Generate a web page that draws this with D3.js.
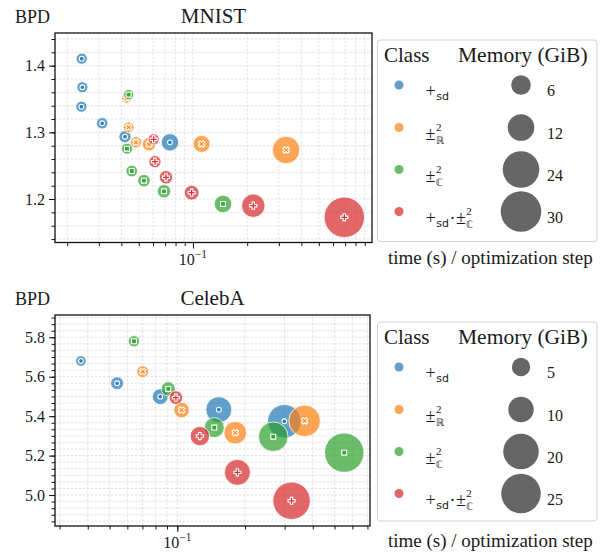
<!DOCTYPE html>
<html>
<head>
<meta charset="utf-8">
<script src="https://cdn.jsdelivr.net/npm/d3@7"></script>
<style>
body { margin: 0; background: #fff; }
svg text { font-family: "Liberation Serif", "Times New Roman", "DejaVu Serif", serif; fill: #1a1a1a; }
</style>
</head>
<body>
<svg id="chart" width="605" height="558"></svg>
<script>
var classColors = ["#1f77b4", "#ff7f0e", "#2ca02c", "#d62728"];

// each point: [time (s) per optimization step, BPD, memory (GiB)]
var mnistSd = [[0.0241, 1.4105, 1.5], [0.0243, 1.3676, 1.5], [0.0240, 1.3385, 1.5], [0.0313, 1.3136, 1.6], [0.0419, 1.2935, 1.9], [0.0745, 1.285, 4.6]];
var mnistR = [[0.0428, 1.351, 1.1], [0.0439, 1.3076, 1.4], [0.0482, 1.285, 1.6], [0.0570, 1.282, 2.4], [0.1117, 1.2826, 4.3], [0.329, 1.2735, 12.8]];
var mnistC = [[0.0439, 1.3565, 1.2], [0.0430, 1.2755, 1.5], [0.0457, 1.242, 1.7], [0.0534, 1.2275, 2.0], [0.069, 1.2116, 2.4], [0.1468, 1.1926, 4.6]];
var mnistSdC = [[0.0605, 1.2896, 1.5], [0.0615, 1.256, 1.9], [0.0708, 1.2326, 2.4], [0.0983, 1.2095, 3.1], [0.2163, 1.19, 9.0], [0.693, 1.1726, 29.7]];

var celebaSd = [[0.0373, 5.680, 1.5], [0.054, 5.567, 2.3], [0.084, 5.499, 3.6], [0.153, 5.433, 10.4], [0.299, 5.374, 17.6]];
var celebaR = [[0.0702, 5.626, 1.9], [0.1045, 5.431, 3.5], [0.181, 5.316, 7.8], [0.368, 5.376, 15.7]];
var celebaC = [[0.0642, 5.780, 1.7], [0.0912, 5.538, 2.9], [0.146, 5.342, 6.0], [0.267, 5.296, 13.7], [0.552, 5.215, 24.8]];
var celebaSdC = [[0.0986, 5.494, 2.6], [0.126, 5.299, 5.6], [0.185, 5.115, 10.4], [0.322, 4.971, 22.3]];

var mnistMemLegend = [6, 12, 24, 30];
var celebaMemLegend = [5, 10, 20, 25];
var mnistYTicks = [1.2, 1.3, 1.4];
var celebaYTicks = [5.0, 5.2, 5.4, 5.6, 5.8];

// legend labels, pieces of math text
var classLabels = [
  [{t: "+"}, {sub: "sd"}],
  [{t: "\u00b1"}, {sup: "2", sub: "\u211d"}],
  [{t: "\u00b1"}, {sup: "2", sub: "\u2102"}],
  [{t: "+"}, {sub: "sd"}, {t: "\u00b7"}, {t: "\u00b1"}, {sup: "2", sub: "\u2102"}]
];

var serif = "'Liberation Serif', 'Times New Roman', 'DejaVu Serif', serif";
var svg = d3.select("#chart");

function mathLabel(g, x, y, parts) {
  var cx = x;
  parts.forEach(function (p) {
    if (p.sup) {
      var a = g.append("text").attr("x", cx).attr("y", y - 9)
        .style("font-family", serif).style("font-size", "11px").text(p.sup);
      var b = g.append("text").attr("x", cx).attr("y", y + 4)
        .style("font-family", "DejaVu Sans").style("font-size", "10px").text(p.sub);
      cx += Math.max(a.node().getComputedTextLength(), b.node().getComputedTextLength()) + 1;
    } else if (p.sub) {
      var s = g.append("text").attr("x", cx).attr("y", y + 3)
        .style("font-family", "DejaVu Sans").style("font-size", "11px").text(p.sub);
      cx += s.node().getComputedTextLength() + 0.5;
    } else {
      var m = g.append("text").attr("x", cx).attr("y", y)
        .style("font-family", serif).style("font-size", "18px").text(p.t);
      cx += m.node().getComputedTextLength() + 0.5;
    }
  });
}

function innerMarker(k) {
  var types = [d3.symbolCircle, d3.symbolCross, d3.symbolSquare, d3.symbolCross];
  var sizes = [18, 26, 24, 28];
  return d3.symbol().type(types[k]).size(sizes[k])();
}

function drawPanel(p) {
  var g = svg.append("g").style("font-family", serif);
  var x = d3.scaleLog().domain(p.xDomain).range([p.left, p.right]);
  var y = d3.scaleLinear().domain(p.yDomain).range([p.bottom, p.top]);
  var r = d3.scaleSqrt().domain([0, p.memMax]).range([0, p.rMax]);

  var xTicks = x.ticks().filter(function (v) { return v >= p.xDomain[0] && v <= p.xDomain[1]; });
  var xMajor = xTicks.filter(function (v) { return Math.abs(Math.log10(v) - Math.round(Math.log10(v))) < 1e-6; });
  var yMinor = d3.range(Math.ceil(p.yDomain[0] / p.yMinorStep - 1e-6), Math.floor(p.yDomain[1] / p.yMinorStep + 1e-6) + 1)
    .map(function (i) { return i * p.yMinorStep; });

  // grid
  g.append("g").selectAll("line").data(xTicks).join("line")
    .attr("x1", function (d) { return x(d); }).attr("x2", function (d) { return x(d); })
    .attr("y1", p.top).attr("y2", p.bottom)
    .attr("stroke", "#dcdcdc").attr("stroke-width", 0.8).attr("stroke-dasharray", "2.5,1.5");
  g.append("g").selectAll("line").data(yMinor).join("line")
    .attr("x1", p.left).attr("x2", p.right)
    .attr("y1", function (d) { return y(d); }).attr("y2", function (d) { return y(d); })
    .attr("stroke", "#dcdcdc").attr("stroke-width", 0.8).attr("stroke-dasharray", "2.5,1.5");

  // points, class by class
  p.series.forEach(function (pts, k) {
    var sg = g.append("g");
    sg.selectAll("circle").data(pts).join("circle")
      .attr("cx", function (d) { return x(d[0]); })
      .attr("cy", function (d) { return y(d[1]); })
      .attr("r", function (d) { return r(d[2]) + p.rEdge; })
      .attr("fill", classColors[k]).attr("fill-opacity", 0.7)
      .attr("stroke", "#fff").attr("stroke-width", 0.8);
    sg.selectAll("path").data(pts).join("path")
      .attr("d", innerMarker(k))
      .attr("transform", function (d) {
        return "translate(" + x(d[0]) + "," + y(d[1]) + ")" + (k === 1 ? " rotate(45)" : "");
      })
      .attr("fill", classColors[k]).attr("fill-opacity", 0.8)
      .attr("stroke", "#fff").attr("stroke-width", 1.1);
  });

  // frame
  g.append("rect").attr("x", p.left).attr("y", p.top)
    .attr("width", p.right - p.left).attr("height", p.bottom - p.top)
    .attr("fill", "none").attr("stroke", "#111").attr("stroke-width", 1.3);

  // ticks
  var xAxisMinor = d3.axisBottom(x).tickValues(xTicks).tickSize(3.5).tickFormat("");
  var xAxisMajor = d3.axisBottom(x).tickValues(xMajor).tickSize(6).tickFormat("");
  var yAxisMinor = d3.axisLeft(y).tickValues(yMinor).tickSize(3.5).tickFormat("");
  var yAxisMajor = d3.axisLeft(y).tickValues(p.yTicks).tickSize(6).tickFormat("");
  [xAxisMinor, xAxisMajor].forEach(function (a) {
    var ag = g.append("g").attr("transform", "translate(0," + p.bottom + ")").call(a);
    ag.select(".domain").remove();
    ag.selectAll("line").attr("stroke", "#111").attr("stroke-width", 1);
  });
  [yAxisMinor, yAxisMajor].forEach(function (a) {
    var ag = g.append("g").attr("transform", "translate(" + p.left + ",0)").call(a);
    ag.select(".domain").remove();
    ag.selectAll("line").attr("stroke", "#111").attr("stroke-width", 1);
  });

  g.selectAll(".ylab").data(p.yTicks).join("text")
    .attr("x", p.left - 10).attr("y", function (d) { return y(d) + 5.5; })
    .attr("text-anchor", "end").style("font-size", "16px")
    .text(function (d) { return d.toFixed(1); });

  xMajor.forEach(function (v) {
    var e = Math.round(Math.log10(v));
    var t = g.append("text").attr("x", x(v)).attr("y", p.bottom + 22)
      .attr("text-anchor", "middle").style("font-size", "16px");
    t.append("tspan").text("10");
    t.append("tspan").attr("dy", -7).style("font-size", "11.5px").text("\u2212" + Math.abs(e));
  });

  // titles
  g.append("text").attr("x", (p.left + p.right) / 2).attr("y", p.top - 10.5)
    .attr("text-anchor", "middle").style("font-size", "21px").text(p.title);
  g.append("text").attr("x", 15).attr("y", p.top - 10.5)
    .style("font-size", "18px").text("BPD");

  // legend
  var ly = p.top + 7;
  var lg = g.append("g");
  lg.append("rect").attr("x", 377.5).attr("y", ly).attr("width", 219.5).attr("height", p.legendH)
    .attr("rx", 3).attr("fill", "#fff").attr("fill-opacity", 0.8)
    .attr("stroke", "#d0d0d0").attr("stroke-width", 1);
  lg.append("text").attr("x", 384).attr("y", ly + 22).style("font-size", "21px").text("Class");
  lg.append("text").attr("x", 458).attr("y", ly + 22).style("font-size", "21.5px").text("Memory (GiB)");
  var rows = [45, 87.5, 129.5, 171.5];
  rows.forEach(function (dy, i) {
    var cy = ly + dy;
    lg.append("circle").attr("cx", 399).attr("cy", cy).attr("r", 4.5)
      .attr("fill", classColors[i]).attr("fill-opacity", 0.7);
    mathLabel(lg, 425.5, cy + 12, classLabels[i]);
    lg.append("circle").attr("cx", 521).attr("cy", cy).attr("r", r(p.memLegend[i]) + p.rEdge)
      .attr("fill", "#000").attr("fill-opacity", 0.6);
    lg.append("text").attr("x", 547).attr("y", cy + 11).style("font-size", "16px").text(p.memLegend[i]);
  });

  g.append("text").attr("x", 388).attr("y", p.bottom + 21)
    .style("font-size", "19px").text("time (s) / optimization step");
}

drawPanel({
  title: "MNIST", left: 55, right: 372, top: 33, bottom: 242.5,
  xDomain: [0.01712, 0.9873], yDomain: [1.1348, 1.449], yTicks: mnistYTicks, yMinorStep: 0.02,
  memMax: 30, rMax: 19, rEdge: 1.3, memLegend: mnistMemLegend, legendH: 201.5,
  series: [mnistSd, mnistR, mnistC, mnistSdC]
});

drawPanel({
  title: "CelebA", left: 55, right: 370, top: 315, bottom: 526,
  xDomain: [0.02861, 0.7186], yDomain: [4.843, 5.913], yTicks: celebaYTicks, yMinorStep: 0.2 / 6,
  memMax: 25, rMax: 19.15, rEdge: 0.63, memLegend: celebaMemLegend, legendH: 199,
  series: [celebaSd, celebaR, celebaC, celebaSdC]
});
</script>
</body>
</html>
